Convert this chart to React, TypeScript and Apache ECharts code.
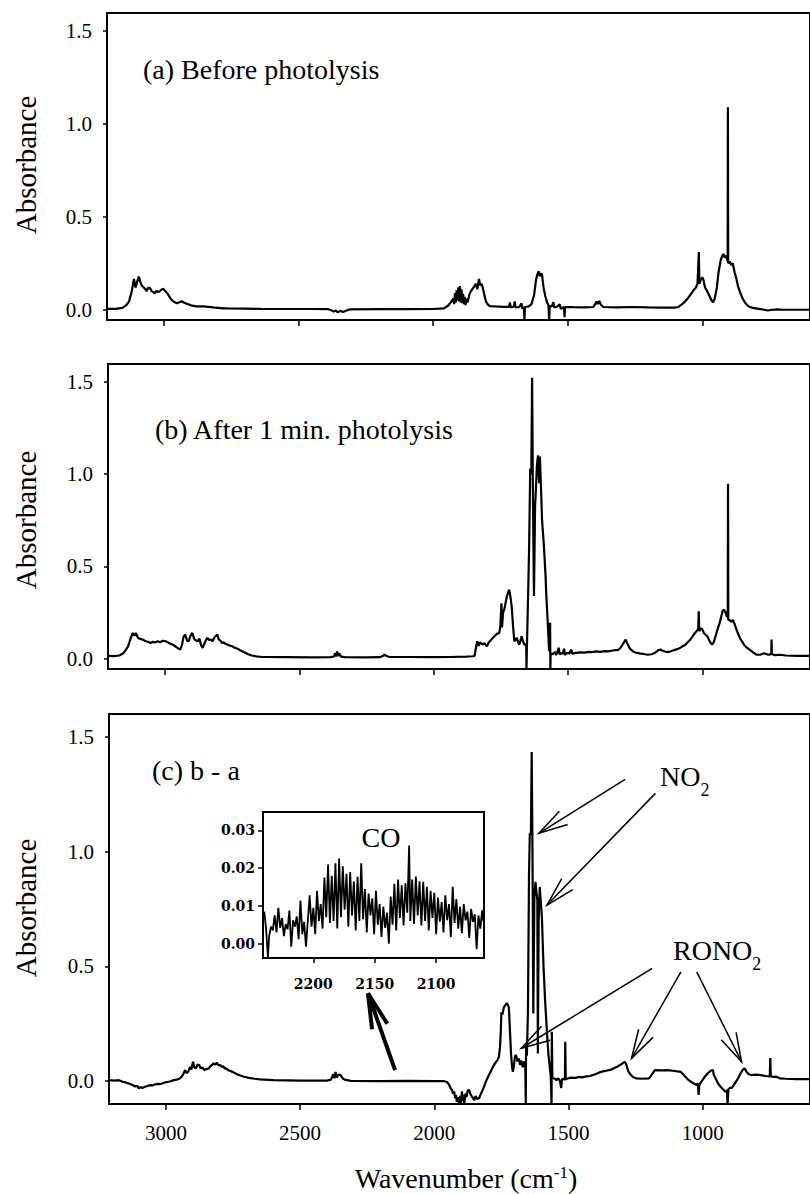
import React, { useEffect, useRef } from "react";
import * as echarts from "echarts";

// ---------- axis settings / ticks ----------
const X_MAX = 3212;
const X_MIN = 600;
const xTicks = [3000, 2500, 2000, 1500, 1000];
const yTicks = [0, 0.5, 1.0, 1.5];
const insetXTicks = [2200, 2150, 2100];
const insetYTicks = [0, 0.01, 0.02, 0.03];

const panelTitles = ["(a) Before photolysis", "(b) After 1 min. photolysis", "(c) b - a"];

// ---------- spectra: [wavenumber (cm-1), absorbance] ----------
const spectrumBefore: [number, number][] = [
  [3212, 0.005], [3180, 0.005], [3155, 0.01], [3140, 0.025], [3130, 0.045], [3120, 0.1], [3112, 0.166],
  [3106, 0.12], [3100, 0.15], [3094, 0.178], [3088, 0.15], [3083, 0.13], [3076, 0.12], [3070, 0.112],
  [3065, 0.1], [3059, 0.118], [3053, 0.118], [3046, 0.1], [3040, 0.095], [3035, 0.088], [3028, 0.102],
  [3022, 0.095], [3017, 0.098], [3010, 0.108], [3003, 0.113], [2995, 0.1], [2987, 0.086], [2978, 0.065],
  [2970, 0.05], [2960, 0.04], [2952, 0.035], [2943, 0.04], [2934, 0.046], [2925, 0.038], [2916, 0.032],
  [2900, 0.024], [2880, 0.018], [2860, 0.019], [2845, 0.017], [2825, 0.014], [2809, 0.011], [2780, 0.008],
  [2763, 0.007], [2700, 0.006], [2642, 0.005], [2550, 0.004], [2450, 0.004], [2390, 0.003], [2378, -0.003],
  [2370, -0.01], [2362, -0.004], [2355, -0.013], [2345, -0.006], [2335, -0.012], [2324, -0.005], [2310, 0.002],
  [2200, 0.003], [2100, 0.003], [2000, 0.004], [1960, 0.008], [1946, 0.02], [1935, 0.04], [1925, 0.06],
  [1922, 0.03], [1919, 0.09], [1916, 0.04], [1913, 0.105], [1910, 0.05], [1907, 0.12], [1904, 0.045],
  [1901, 0.128], [1898, 0.04], [1895, 0.11], [1892, 0.035], [1889, 0.085], [1886, 0.03], [1883, 0.07],
  [1880, 0.025], [1876, 0.06], [1872, 0.04], [1866, 0.08], [1860, 0.1], [1850, 0.12], [1842, 0.14],
  [1836, 0.11], [1830, 0.166], [1825, 0.13], [1820, 0.14], [1816, 0.12], [1810, 0.08], [1804, 0.045],
  [1798, 0.03], [1790, 0.02], [1770, 0.018], [1740, 0.016], [1718, 0.016], [1715, 0.04], [1712, 0.012],
  [1700, 0.018], [1697, 0.045], [1694, 0.012], [1680, 0.015], [1672, 0.035], [1669, 0.005], [1663, 0.015],
  [1661, -0.055], [1659, 0.015], [1645, 0.018], [1635, 0.03], [1625, 0.08], [1618, 0.16], [1613, 0.19],
  [1608, 0.207], [1604, 0.18], [1600, 0.195], [1596, 0.19], [1590, 0.12], [1583, 0.07], [1577, 0.04],
  [1572, 0.025], [1569, -0.055], [1567, 0.02], [1560, 0.018], [1553, 0.04], [1550, 0.012], [1540, 0.016],
  [1530, 0.03], [1526, 0.005], [1514, 0.015], [1512, -0.04], [1510, 0.015], [1480, 0.014], [1440, 0.013],
  [1405, 0.015], [1398, 0.03], [1393, 0.045], [1388, 0.03], [1383, 0.048], [1376, 0.025], [1368, 0.015],
  [1320, 0.013], [1260, 0.015], [1200, 0.013], [1150, 0.012], [1100, 0.012], [1089, 0.015], [1075, 0.03],
  [1062, 0.048], [1052, 0.065], [1040, 0.09], [1030, 0.11], [1024, 0.12], [1018, 0.14], [1013, 0.31],
  [1011, 0.14], [1006, 0.16], [1000, 0.175], [996, 0.16], [990, 0.12], [982, 0.1], [972, 0.07], [966, 0.05],
  [960, 0.04], [954, 0.06], [946, 0.12], [940, 0.2], [932, 0.265], [926, 0.29], [922, 0.3], [916, 0.28],
  [910, 0.29], [906, 0.26], [905, 1.088], [904, 0.25], [898, 0.26], [893, 0.24], [887, 0.25], [880, 0.2],
  [874, 0.17], [868, 0.13], [860, 0.095], [850, 0.06], [840, 0.035], [828, 0.018], [813, 0.01], [790, 0.005],
  [770, 0.0], [757, -0.004], [740, 0.0], [720, 0.002], [706, 0.0], [650, 0.0], [600, 0.0],
];

const spectrumAfter: [number, number][] = [
  [3212, 0.016], [3190, 0.015], [3170, 0.018], [3155, 0.03], [3145, 0.05], [3137, 0.068], [3128, 0.11],
  [3120, 0.14], [3114, 0.125], [3109, 0.14], [3100, 0.113], [3092, 0.108], [3082, 0.104], [3072, 0.095],
  [3063, 0.092], [3054, 0.086], [3045, 0.092], [3036, 0.088], [3027, 0.095], [3018, 0.09], [3008, 0.098],
  [2998, 0.095], [2988, 0.088], [2980, 0.082], [2971, 0.077], [2962, 0.068], [2952, 0.058], [2943, 0.05],
  [2936, 0.08], [2931, 0.12], [2925, 0.131], [2918, 0.1], [2912, 0.095], [2905, 0.125], [2898, 0.14],
  [2892, 0.11], [2886, 0.1], [2879, 0.095], [2872, 0.11], [2866, 0.075], [2860, 0.059], [2854, 0.08],
  [2848, 0.1], [2842, 0.113], [2835, 0.1], [2829, 0.105], [2823, 0.095], [2816, 0.115], [2810, 0.125],
  [2805, 0.131], [2800, 0.105], [2794, 0.098], [2788, 0.086], [2782, 0.09], [2776, 0.082], [2768, 0.077],
  [2760, 0.072], [2750, 0.068], [2740, 0.06], [2730, 0.055], [2722, 0.048], [2713, 0.041], [2700, 0.032],
  [2690, 0.025], [2677, 0.018], [2660, 0.013], [2639, 0.01], [2550, 0.009], [2450, 0.008], [2385, 0.009],
  [2372, 0.012], [2367, 0.03], [2364, 0.012], [2360, 0.04], [2356, 0.015], [2352, 0.03], [2345, 0.012],
  [2330, 0.009], [2250, 0.008], [2200, 0.009], [2190, 0.015], [2183, 0.023], [2176, 0.015], [2165, 0.01],
  [2100, 0.01], [2000, 0.009], [1939, 0.01], [1880, 0.012], [1855, 0.014], [1848, 0.016], [1843, 0.06],
  [1838, 0.095], [1833, 0.07], [1828, 0.09], [1820, 0.077], [1812, 0.085], [1802, 0.068], [1795, 0.09],
  [1788, 0.1], [1781, 0.112], [1774, 0.122], [1765, 0.135], [1756, 0.14], [1752, 0.18], [1748, 0.3],
  [1746, 0.17], [1742, 0.25], [1737, 0.27], [1733, 0.3], [1728, 0.338], [1723, 0.36], [1719, 0.374],
  [1714, 0.33], [1710, 0.284], [1705, 0.18], [1700, 0.095], [1695, 0.105], [1691, 0.113], [1686, 0.09],
  [1682, 0.077], [1677, 0.1], [1673, 0.122], [1668, 0.095], [1663, 0.077], [1656, 0.08], [1655, -0.055],
  [1653, 0.08], [1648, 0.4], [1645, 0.61], [1641, 1.03], [1637, 1.0], [1634, 1.52], [1631, 0.9],
  [1627, 0.34], [1623, 0.82], [1620, 0.915], [1616, 1.05], [1612, 1.1], [1608, 0.95], [1605, 1.095],
  [1601, 0.93], [1597, 0.75], [1592, 0.65], [1590, 0.61], [1584, 0.45], [1581, 0.34], [1576, 0.2],
  [1571, 0.05], [1568, 0.04], [1567, 0.195], [1566, -0.055], [1565, 0.03], [1560, 0.025], [1553, 0.03],
  [1548, 0.038], [1545, 0.02], [1540, 0.035], [1535, 0.06], [1532, 0.025], [1526, 0.03], [1520, 0.028],
  [1515, 0.055], [1512, 0.02], [1505, 0.032], [1495, 0.03], [1488, 0.05], [1485, 0.028], [1470, 0.032],
  [1455, 0.035], [1440, 0.034], [1425, 0.038], [1410, 0.036], [1395, 0.04], [1380, 0.038], [1365, 0.042],
  [1350, 0.04], [1335, 0.045], [1314, 0.048], [1305, 0.06], [1296, 0.08], [1290, 0.095], [1286, 0.104],
  [1280, 0.085], [1272, 0.06], [1265, 0.048], [1258, 0.04], [1245, 0.032], [1230, 0.028], [1215, 0.025],
  [1203, 0.022], [1190, 0.025], [1180, 0.03], [1170, 0.04], [1163, 0.048], [1157, 0.05], [1150, 0.045],
  [1140, 0.04], [1130, 0.036], [1120, 0.04], [1110, 0.045], [1100, 0.05], [1090, 0.055], [1080, 0.062],
  [1074, 0.068], [1065, 0.075], [1055, 0.09], [1045, 0.105], [1035, 0.125], [1028, 0.14], [1022, 0.15],
  [1016, 0.16], [1014, 0.257], [1012, 0.15], [1006, 0.165], [1001, 0.16], [995, 0.14], [988, 0.13],
  [982, 0.122], [975, 0.1], [969, 0.085], [964, 0.077], [958, 0.09], [950, 0.13], [943, 0.165], [936, 0.194],
  [930, 0.23], [925, 0.26], [920, 0.266], [914, 0.25], [910, 0.23], [906, 0.23], [905, 0.947], [904, 0.21],
  [899, 0.21], [893, 0.2], [887, 0.21], [881, 0.19], [874, 0.16], [866, 0.13], [858, 0.105], [853, 0.095],
  [845, 0.075], [835, 0.06], [825, 0.05], [812, 0.035], [798, 0.022], [785, 0.022], [770, 0.03], [760, 0.024],
  [750, 0.022], [744, 0.03], [743, 0.104], [742, 0.025], [730, 0.02], [710, 0.022], [690, 0.018], [650, 0.016],
  [600, 0.016],
];

const spectrumDiff: [number, number][] = [
  [3212, 0.004], [3190, 0.002], [3175, 0.004], [3161, -0.003], [3150, -0.006], [3140, -0.01], [3125, -0.017],
  [3115, -0.024], [3108, -0.02], [3101, -0.032], [3095, -0.026], [3088, -0.03], [3078, -0.025], [3070, -0.022],
  [3060, -0.018], [3050, -0.019], [3042, -0.015], [3030, -0.012], [3020, -0.013], [3006, -0.007], [2995, -0.004],
  [2985, -0.002], [2971, 0.004], [2960, 0.006], [2950, 0.01], [2941, 0.019], [2935, 0.03], [2929, 0.048],
  [2923, 0.035], [2917, 0.04], [2910, 0.062], [2905, 0.05], [2899, 0.084], [2894, 0.06], [2888, 0.055],
  [2882, 0.072], [2876, 0.07], [2870, 0.055], [2864, 0.06], [2858, 0.048], [2850, 0.052], [2840, 0.055],
  [2834, 0.065], [2828, 0.07], [2822, 0.077], [2816, 0.072], [2810, 0.08], [2804, 0.068], [2798, 0.07],
  [2792, 0.062], [2786, 0.064], [2780, 0.054], [2775, 0.056], [2769, 0.048], [2760, 0.044], [2752, 0.04],
  [2745, 0.036], [2735, 0.03], [2725, 0.025], [2709, 0.019], [2690, 0.014], [2670, 0.01], [2650, 0.007],
  [2600, 0.004], [2500, 0.002], [2400, 0.002], [2385, 0.006], [2376, 0.03], [2372, 0.012], [2368, 0.04],
  [2363, 0.015], [2358, 0.028], [2349, 0.026], [2340, 0.01], [2330, 0.005], [2311, 0.001], [2200, 0.0],
  [2100, 0.001], [2000, 0.0], [1965, 0.0], [1953, -0.004], [1945, -0.015], [1940, -0.03], [1934, -0.039],
  [1930, -0.055], [1926, -0.045], [1922, -0.075], [1919, -0.06], [1916, -0.09], [1912, -0.07], [1908, -0.1],
  [1904, -0.065], [1900, -0.1], [1897, -0.045], [1894, -0.085], [1891, -0.06], [1888, -0.1], [1884, -0.055],
  [1880, -0.07], [1875, -0.04], [1870, -0.039], [1864, -0.06], [1858, -0.07], [1851, -0.083], [1846, -0.065],
  [1840, -0.078], [1833, -0.075], [1828, -0.06], [1822, -0.045], [1815, -0.025], [1805, 0.005], [1795, 0.03],
  [1787, 0.048], [1780, 0.065], [1772, 0.08], [1765, 0.09], [1759, 0.106], [1755, 0.15], [1752, 0.22],
  [1750, 0.3], [1746, 0.29], [1741, 0.32], [1736, 0.33], [1731, 0.338], [1727, 0.335], [1722, 0.32],
  [1718, 0.22], [1714, 0.12], [1710, 0.06], [1707, 0.04], [1703, 0.07], [1699, 0.11], [1695, 0.113],
  [1690, 0.085], [1685, 0.099], [1680, 0.07], [1676, 0.09], [1670, 0.06], [1665, 0.085], [1661, 0.08],
  [1659, -0.1], [1658, 0.15], [1655, 0.11], [1651, 0.3], [1647, 0.9], [1644, 1.08], [1640, 1.07],
  [1637, 1.434], [1634, 1.0], [1631, 0.295], [1627, 0.8], [1623, 0.868], [1619, 0.82], [1616, 0.79],
  [1614, 0.12], [1611, 0.7], [1607, 0.846], [1603, 0.78], [1599, 0.716], [1593, 0.5], [1587, 0.35],
  [1580, 0.21], [1575, 0.12], [1571, 0.077], [1566, 0.02], [1563, -0.1], [1562, 0.215], [1560, 0.015],
  [1557, 0.012], [1550, 0.01], [1545, 0.004], [1538, 0.012], [1532, 0.002], [1527, -0.03], [1524, 0.008],
  [1518, 0.01], [1513, 0.005], [1512, 0.171], [1510, 0.008], [1500, 0.012], [1490, 0.015], [1475, 0.014],
  [1460, 0.018], [1450, 0.016], [1438, 0.019], [1420, 0.022], [1400, 0.03], [1379, 0.04], [1360, 0.045],
  [1340, 0.05], [1319, 0.062], [1305, 0.072], [1295, 0.08], [1290, 0.084], [1284, 0.07], [1278, 0.045],
  [1272, 0.033], [1260, 0.018], [1248, 0.012], [1225, 0.01], [1200, 0.012], [1188, 0.03], [1180, 0.045],
  [1176, 0.048], [1150, 0.047], [1129, 0.048], [1105, 0.044], [1081, 0.04], [1065, 0.02], [1052, 0.004],
  [1035, -0.01], [1022, -0.017], [1018, -0.01], [1015, -0.06], [1012, -0.015], [1000, 0.005], [992, 0.019],
  [980, 0.035], [970, 0.045], [962, 0.048], [958, 0.025], [952, 0.012], [945, -0.005], [940, -0.015],
  [933, -0.025], [925, -0.035], [920, -0.04], [915, -0.046], [910, -0.04], [907, -0.1], [904, -0.035],
  [898, -0.03], [891, -0.03], [880, -0.01], [868, 0.012], [858, 0.035], [850, 0.05], [844, 0.055],
  [836, 0.04], [828, 0.03], [820, 0.026], [800, 0.028], [784, 0.026], [765, 0.022], [750, 0.02],
  [748, 0.1], [746, 0.02], [735, 0.018], [725, 0.019], [713, 0.012], [690, 0.01], [650, 0.008], [600, 0.008],
];

// CO region inset (b - a), 2240-2062 cm-1
const insetCO: [number, number][] = [
  [2240, 0.0085], [2238.5, 0.004], [2237, -0.0035], [2236, 0.002], [2234.5, 0.0045], [2233, 0.0035],
  [2231.5, 0.0075], [2230, 0.003], [2228.5, 0.0095], [2227, 0.0042], [2225.5, 0.0068], [2224, 0.002],
  [2222.5, 0.0052], [2221, 0.0038], [2219.5, 0.0088], [2218, -0.0008], [2216.5, 0.0062], [2215, 0.0045],
  [2213.5, 0.0072], [2212, 0.0012], [2210.5, 0.0114], [2209, 0.0025], [2207.5, 0.0058], [2206, -0.0008],
  [2204.5, 0.006], [2203, 0.0128], [2201.5, 0.0045], [2200, 0.0095], [2198.5, 0.0025], [2197, 0.014],
  [2195.5, 0.006], [2194, 0.0105], [2192.5, 0.004], [2191, 0.0175], [2189.5, 0.007], [2188, 0.021],
  [2186.5, 0.0055], [2185, 0.018], [2183.5, 0.006], [2182, 0.0213], [2180.5, 0.004], [2179, 0.0226],
  [2177.5, 0.007], [2176, 0.0205], [2174.5, 0.009], [2173, 0.0185], [2171.5, 0.0045], [2170, 0.019],
  [2168.5, 0.0075], [2167, 0.0165], [2165.5, 0.0035], [2164, 0.0178], [2162.5, 0.006], [2161, 0.0213],
  [2159.5, 0.0065], [2158, 0.0145], [2156.5, 0.003], [2155, 0.0133], [2153.5, 0.0075], [2152, 0.012],
  [2150.5, 0.0025], [2149, 0.014], [2147.5, 0.005], [2146, 0.0105], [2144.5, 0.0018], [2143, 0.0098],
  [2141.5, 0.0042], [2140, 0.0082], [2138.5, 0.0], [2137, 0.0125], [2135.5, 0.005], [2134, 0.0159],
  [2132.5, 0.0035], [2131, 0.017], [2129.5, 0.0068], [2128, 0.0155], [2126.5, 0.0048], [2125, 0.016],
  [2123.5, 0.0082], [2122, 0.026], [2121, 0.006], [2119.5, 0.017], [2118, 0.0052], [2116.5, 0.0178],
  [2115, 0.0075], [2113.5, 0.0165], [2112, 0.0048], [2110.5, 0.0164], [2109, 0.006], [2107.5, 0.0151],
  [2106, 0.0035], [2104.5, 0.014], [2103, 0.0068], [2101.5, 0.0135], [2100, 0.0025], [2098.5, 0.0122],
  [2097, 0.0058], [2095.5, 0.011], [2094, 0.003], [2092.5, 0.0128], [2091, 0.0062], [2089.5, 0.0105],
  [2088, 0.0018], [2086.5, 0.0151], [2085, 0.0055], [2083.5, 0.0118], [2082, 0.004], [2080.5, 0.0098],
  [2079, 0.0028], [2077.5, 0.0105], [2076, 0.0062], [2074.5, 0.0085], [2073, 0.0015], [2071.5, 0.0092],
  [2070, 0.0058], [2068.5, 0.0078], [2067, -0.0015], [2065.5, 0.0075], [2064, 0.004], [2062.5, 0.0088],
  [2061.5, 0.006],
];

// annotation arrows in panel (c) data coordinates: [tail, tip]
const arrowsNO2: [number, number][][] = [
  [[1289, 1.315], [1610, 1.08]],
  [[1176, 1.254], [1580, 0.767]],
];
const arrowsRONO2: [number, number][][] = [
  [[1188, 0.491], [1676, 0.143]],
  [[1081, 0.476], [1265, 0.099]],
  [[1022, 0.476], [855, 0.084]],
];
const arrowCO: [number, number][] = [[2146, 0.048], [2247, 0.382]];

const SERIF = "Liberation Serif";
const INSET_FONT = "DejaVu Serif";

function buildOption(): any {
  const mainGrids = [
    { left: 107, top: 13, right: -30, height: 307 },
    { left: 108, top: 364, right: -31, height: 305 },
    { left: 109, top: 714, right: -32, height: 390 },
  ];
  const yRanges = [
    [-0.055, 1.595],
    [-0.055, 1.595],
    [-0.1, 1.6],
  ];
  const grid: any[] = mainGrids.map((g) => ({
    ...g,
    show: true,
    borderColor: "#000",
    borderWidth: 2,
    backgroundColor: "transparent",
  }));
  grid.push({ left: 263, top: 812, width: 221, height: 146, show: true, borderColor: "#000", borderWidth: 2, backgroundColor: "#fff" });

  const tickLine = { color: "#000", width: 1.5 };
  const xAxis: any[] = [0, 1, 2].map((i) => ({
    type: "value",
    gridIndex: i,
    min: X_MIN,
    max: X_MAX,
    inverse: true,
    axisLine: { show: false, onZero: false },
    splitLine: { show: false },
    axisTick: { show: true, inside: false, length: 6, customValues: xTicks, lineStyle: tickLine },
    axisLabel: {
      show: i === 2,
      customValues: xTicks,
      formatter: (v: number) => String(v),
      margin: 18,
      fontSize: 21,
      fontFamily: SERIF,
      color: "#000",
    },
  }));
  xAxis.push({
    type: "value",
    gridIndex: 3,
    min: 2061,
    max: 2241,
    inverse: true,
    axisLine: { show: false, onZero: false },
    splitLine: { show: false },
    axisTick: { show: true, inside: false, length: 5, customValues: insetXTicks, lineStyle: tickLine },
    axisLabel: {
      customValues: insetXTicks,
      formatter: (v: number) => String(v),
      margin: 19,
      fontSize: 14,
      fontWeight: "bold",
      fontFamily: INSET_FONT,
      color: "#000",
    },
  });
  const yAxis: any[] = [0, 1, 2].map((i) => ({
    type: "value",
    gridIndex: i,
    min: yRanges[i][0],
    max: yRanges[i][1],
    axisLine: { show: false, onZero: false },
    splitLine: { show: false },
    axisTick: { show: true, inside: false, length: 4, customValues: yTicks, lineStyle: tickLine },
    axisLabel: {
      customValues: yTicks,
      formatter: (v: number) => v.toFixed(1),
      margin: 15,
      fontSize: 21,
      fontFamily: SERIF,
      color: "#000",
    },
  }));
  yAxis.push({
    type: "value",
    gridIndex: 3,
    min: -0.0038,
    max: 0.0349,
    axisLine: { show: false, onZero: false },
    splitLine: { show: false },
    axisTick: { show: true, inside: false, length: 5, customValues: insetYTicks, lineStyle: tickLine },
    axisLabel: {
      customValues: insetYTicks,
      formatter: (v: number) => v.toFixed(2),
      margin: 8,
      fontSize: 14,
      fontWeight: "bold",
      fontFamily: INSET_FONT,
      color: "#000",
    },
  });

  const lineSeries = (data: [number, number][], idx: number, width: number) => ({
    type: "line",
    xAxisIndex: idx,
    yAxisIndex: idx,
    data,
    showSymbol: false,
    symbol: "none",
    clip: true,
    silent: true,
    lineStyle: { color: "#000", width },
  });

  return {
    animation: false,
    backgroundColor: "#fff",
    textStyle: { fontFamily: SERIF },
    grid,
    xAxis,
    yAxis,
    series: [
      lineSeries(spectrumBefore, 0, 2.2),
      lineSeries(spectrumAfter, 1, 2.2),
      lineSeries(spectrumDiff, 2, 2.2),
      lineSeries(insetCO, 3, 1.8),
    ],
  };
}

function arrowEls(tail: number[], tip: number[], len: number, spreadDeg: number, width: number): any[] {
  const ang = Math.atan2(tail[1] - tip[1], tail[0] - tip[0]);
  const s = (spreadDeg * Math.PI) / 180;
  const b1 = [tip[0] + len * Math.cos(ang + s), tip[1] + len * Math.sin(ang + s)];
  const b2 = [tip[0] + len * Math.cos(ang - s), tip[1] + len * Math.sin(ang - s)];
  return [
    { type: "line", silent: true, shape: { x1: tail[0], y1: tail[1], x2: tip[0], y2: tip[1] }, style: { stroke: "#000", lineWidth: width } },
    { type: "polyline", silent: true, shape: { points: [b1, tip, b2] }, style: { stroke: "#000", lineWidth: width, fill: null } },
  ];
}

function textEl(text: string, x: number, y: number, size: number, align = "left"): any {
  return {
    type: "text",
    silent: true,
    x,
    y,
    style: {
      text,
      fontSize: size,
      fontFamily: SERIF,
      fill: "#000",
      align,
      verticalAlign: "middle",
      textAlign: align,
      textVerticalAlign: "middle",
    },
  };
}

export default function App() {
  const ref = useRef<HTMLDivElement>(null);
  useEffect(() => {
    if (!ref.current) return;
    const chart = echarts.init(ref.current, null, { renderer: "svg" });
    chart.setOption(buildOption());

    const toPx = (p: number[]) => chart.convertToPixel({ gridIndex: 2 } as any, p) as number[];
    const graphics: any[] = [];
    // panel titles
    graphics.push(textEl(panelTitles[0], 143, 69, 28));
    graphics.push(textEl(panelTitles[1], 155, 429, 28));
    graphics.push(textEl(panelTitles[2], 152, 770, 28));
    // y axis titles
    [165, 520, 908].forEach((y) => {
      graphics.push({
        type: "text",
        silent: true,
        x: 26,
        y,
        rotation: Math.PI / 2,
        style: {
          text: "Absorbance",
          fontSize: 29,
          fontFamily: SERIF,
          fill: "#000",
          align: "center",
          verticalAlign: "middle",
          textAlign: "center",
          textVerticalAlign: "middle",
        },
      });
    });
    // x axis title with superscript
    graphics.push({
      type: "text",
      silent: true,
      x: 466,
      y: 1178,
      style: {
        text: "{m|Wavenumber (cm}{s|-1}{m|)}",
        fill: "#000",
        fontFamily: SERIF,
        align: "center",
        verticalAlign: "middle",
        textAlign: "center",
        textVerticalAlign: "middle",
        rich: {
          m: { fontSize: 28, fontFamily: SERIF, lineHeight: 28, fill: "#000" },
          s: { fontSize: 17, fontFamily: SERIF, lineHeight: 15, verticalAlign: "top", fill: "#000" },
        },
      },
    });
    // inset label
    graphics.push(textEl("CO", 381, 837, 28, "center"));
    // species labels with subscripts
    const subText = (main: string, x: number, y: number) => ({
      type: "text",
      silent: true,
      x,
      y,
      style: {
        text: `{m|${main}}{s|2}`,
        fill: "#000",
        fontFamily: SERIF,
        align: "left",
        verticalAlign: "middle",
        textAlign: "left",
        textVerticalAlign: "middle",
        rich: {
          m: { fontSize: 28, fontFamily: SERIF, lineHeight: 46, fill: "#000" },
          s: { fontSize: 18, fontFamily: SERIF, lineHeight: 18, verticalAlign: "bottom", fill: "#000" },
        },
      },
    });
    graphics.push(subText("NO", 660, 776));
    graphics.push(subText("RONO", 673, 950));
    // arrows
    arrowsNO2.forEach(([tail, tip]) => graphics.push(...arrowEls(toPx(tail), toPx(tip), 30, 15, 1.5)));
    arrowsRONO2.forEach(([tail, tip]) => graphics.push(...arrowEls(toPx(tail), toPx(tip), 30, 16, 1.5)));
    graphics.push(...arrowEls(toPx(arrowCO[0]), toPx(arrowCO[1]), 36, 13, 4));

    chart.setOption({ graphic: graphics });
    return () => chart.dispose();
  }, []);
  return (
    <div
      ref={ref}
      style={{ position: "absolute", left: 0, top: 0, width: 810, height: 1194, overflow: "hidden", background: "#fff" }}
    />
  );
}
